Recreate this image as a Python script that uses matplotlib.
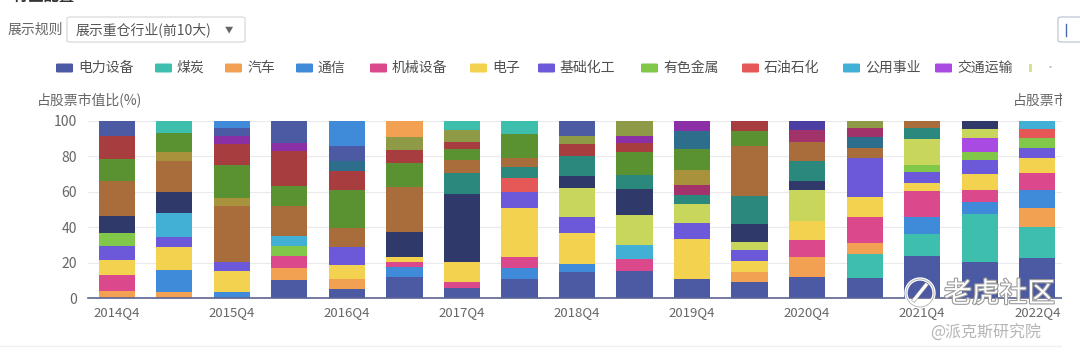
import matplotlib
matplotlib.use("Agg")
import matplotlib.pyplot as plt
import numpy as np
from matplotlib.patches import FancyBboxPatch, Ellipse, Rectangle
from matplotlib.lines import Line2D
import matplotlib.patheffects as pe

plt.rcParams['font.family'] = ['Noto Sans CJK SC', 'DejaVu Sans']

# ---------------- data ----------------
PERIODS = ['2014Q4', '2015Q2', '2015Q4', '2016Q2', '2016Q4', '2017Q2', '2017Q4', '2018Q2',
           '2018Q4', '2019Q2', '2019Q4', '2020Q2', '2020Q4', '2021Q2', '2021Q4', '2022Q2', '2022Q4']

POWER_EQUIPMENT = [0, 0, 0, 10.2, 5.1, 12.1, 5.5, 10.7, 14.5, 15.4, 10.5, 9.2, 12.1, 11.1, 23.9, 20.5, 22.8]
COAL            = [0, 0, 0, 0, 0, 0, 0, 0, 0, 0, 0, 0, 0, 13.6, 12.1, 26.8, 17.5]
AUTO            = [4.0, 3.6, 0, 6.6, 5.4, 0, 0, 0, 0, 0, 0, 5.7, 11.3, 6.6, 0, 0, 10.7]
TELECOM         = [0, 12.2, 3.6, 0, 0, 5.6, 0, 6.4, 4.5, 0, 0, 0, 0, 0, 10.0, 6.7, 10.0]
MACHINERY       = [9.0, 0, 0, 7.1, 0, 2.8, 3.4, 6.3, 0, 6.6, 0, 0, 9.4, 14.3, 14.5, 7.0, 9.4]
ELECTRONICS     = [8.5, 13.2, 11.8, 0, 8.1, 2.9, 11.6, 27.6, 17.9, 0, 22.6, 6.2, 10.7, 11.7, 4.3, 8.9, 8.9]
CHEMICALS       = [8.0, 5.3, 4.8, 0, 10.4, 0, 0, 9.1, 9.1, 0, 9.1, 6.0, 0, 21.6, 6.2, 8.1, 5.6]
NONFERROUS      = [7.5, 0, 0, 5.5, 0, 0, 0, 0, 0, 0, 0, 0, 0, 0, 4.1, 4.7, 5.7]
PETROCHEM       = [0, 0, 0, 0, 0, 0, 0, 7.5, 0, 0, 0, 0, 0, 0, 0, 0, 4.9]
UTILITIES       = [0, 13.9, 0, 5.8, 0, 0, 0, 0, 0, 7.9, 0, 0, 0, 0, 0, 0, 4.5]
TRANSPORT       = [0, 0, 0, 0, 0, 0, 0, 0, 0, 0, 0, 0, 0, 0, 0, 7.9, 0]
COMPUTER        = [0, 0, 0, 0, 0, 0, 0, 0, 16.0, 17.0, 10.7, 4.7, 17.5, 0, 14.7, 4.9, 0]
FOOD_BEV        = [9.3, 11.5, 0, 0, 0, 13.7, 38.1, 0, 6.9, 14.7, 0, 10.0, 5.3, 0, 0, 4.5, 0]
PHARMA          = [0, 0, 0, 0, 0, 0, 11.8, 6.2, 11.3, 7.9, 5.3, 15.8, 11.3, 0, 6.1, 0, 0]
NONBANK_FIN     = [19.7, 17.9, 32.0, 17.0, 10.4, 25.8, 7.6, 5.1, 0, 0, 0, 28.3, 10.3, 5.7, 4.1, 0, 0]
DEFENSE         = [0, 0, 0, 0, 0, 0, 0, 0, 0, 0, 5.6, 0, 7.0, 0, 0, 0, 0]
BUILDING_MAT    = [0, 4.7, 4.5, 0, 0, 0, 0, 0, 0, 0, 8.5, 0, 0, 0, 0, 0, 0]
HOME_APPL       = [12.3, 11.1, 18.4, 11.3, 21.6, 13.2, 6.0, 13.6, 0, 13.2, 11.9, 8.5, 0, 0, 0, 0, 0]
BANK            = [13.1, 0, 11.9, 19.5, 10.8, 7.5, 3.9, 0, 6.6, 4.7, 0, 5.6, 0, 0, 0, 0, 0]
REAL_ESTATE     = [0, 0, 0, 0, 5.6, 0, 0, 0, 0, 0, 10.2, 0, 0, 6.3, 0, 0, 0]
MEDIA           = [0, 0, 4.7, 4.4, 0, 0, 0, 0, 0, 4.3, 5.6, 0, 0, 0, 0, 0, 0]
AGRI            = [0, 0, 0, 0, 0, 0, 0, 0, 0, 0, 0, 0, 0, 4.9, 0, 0, 0]
STEEL           = [0, 0, 0, 0, 0, 7.5, 7.0, 0, 4.9, 8.3, 0, 0, 0, 4.2, 0, 0, 0]
CONSTRUCTION    = [0, 0, 0, 0, 0, 0, 0, 0, 0, 0, 0, 0, 5.1, 0, 0, 0, 0]
LIGHT_MFG       = [8.6, 0, 4.5, 12.6, 8.5, 0, 0, 0, 8.3, 0, 0, 0, 0, 0, 0, 0, 0]
RETAIL          = [0, 6.6, 0, 0, 0, 0, 5.1, 7.5, 0, 0, 0, 0, 0, 0, 0, 0, 0]
SOCIAL_SVC      = [0, 0, 0, 0, 0, 8.9, 0, 0, 0, 0, 0, 0, 0, 0, 0, 0, 0]
ENVIRONMENT     = [0, 0, 3.8, 0, 14.1, 0, 0, 0, 0, 0, 0, 0, 0, 0, 0, 0, 0]

# stacking order (bottom -> top), names and colours
SERIES = [
    ('电力设备', POWER_EQUIPMENT, '#4b5aa2'),
    ('煤炭', COAL, '#3ebfae'),
    ('汽车', AUTO, '#f2a152'),
    ('通信', TELECOM, '#3f8ad9'),
    ('机械设备', MACHINERY, '#dc488c'),
    ('电子', ELECTRONICS, '#f3d24f'),
    ('基础化工', CHEMICALS, '#6c59da'),
    ('有色金属', NONFERROUS, '#80c74a'),
    ('石油石化', PETROCHEM, '#e65757'),
    ('公用事业', UTILITIES, '#42b0d4'),
    ('交通运输', TRANSPORT, '#a94ae2'),
    ('计算机', COMPUTER, '#c8d75c'),
    ('食品饮料', FOOD_BEV, '#2f3a6b'),
    ('医药生物', PHARMA, '#2a897c'),
    ('非银金融', NONBANK_FIN, '#a86d3a'),
    ('国防军工', DEFENSE, '#a2336a'),
    ('建筑材料', BUILDING_MAT, '#a8923c'),
    ('家用电器', HOME_APPL, '#5b9231'),
    ('银行', BANK, '#a83d3f'),
    ('房地产', REAL_ESTATE, '#2c6e8c'),
    ('传媒', MEDIA, '#8b2fa6'),
    ('农林牧渔', AGRI, '#a2336a'),
    ('钢铁', STEEL, '#8e9a45'),
    ('建筑装饰', CONSTRUCTION, '#4b3fa3'),
    ('轻工制造', LIGHT_MFG, '#4b5aa2'),
    ('商贸零售', RETAIL, '#3ebfae'),
    ('社会服务', SOCIAL_SVC, '#f2a152'),
    ('环保', ENVIRONMENT, '#3f8ad9'),
]
LEGEND_COUNT = 11
Y_TICKS = [0, 20, 40, 60, 80, 100]

# ---------------- figure ----------------
W, H = 1080, 358
fig = plt.figure(figsize=(W / 100, H / 100), dpi=100)
fig.patch.set_facecolor('white')


def fx(px):
    return px / W


def fy(py):
    return 1 - py / H


GRAY = '#666666'

ax = fig.add_axes([fx(88), fy(298), fx(1066) - fx(88), fy(121) - fy(298)])
x = np.arange(len(PERIODS))
bottom = np.zeros(len(PERIODS))
for name, vals, col in SERIES:
    v = np.array(vals, dtype=float)
    ax.bar(x, v, bottom=bottom, width=0.63, color=col, linewidth=0, zorder=3)
    bottom += v

ax.set_xlim(-0.5, len(PERIODS) - 0.5)
ax.set_ylim(0, 100)
ax.set_yticks(Y_TICKS)
ax.set_yticklabels([str(t) for t in Y_TICKS], fontsize=10, color=GRAY)
ax.set_xticks(x)
ax.set_xticklabels([p if i % 2 == 0 else '' for i, p in enumerate(PERIODS)], fontsize=9.5, color=GRAY)
ax.tick_params(axis='y', length=0, pad=8)
ax.tick_params(axis='x', length=0, pad=6)
ax.grid(axis='y', color='#e9e9ee', linewidth=0.8, zorder=0)
for s in ['top', 'right', 'left']:
    ax.spines[s].set_visible(False)
ax.spines['bottom'].set_color('#5b6394')
ax.spines['bottom'].set_linewidth(1.2)
ax.spines['bottom'].set_zorder(4)

# ---------------- header controls ----------------
fig.text(fx(4), fy(-4), '- 行业配置', fontsize=11, fontweight='bold', color='#333333', va='center')
fig.text(fx(8), fy(30), '展示规则', fontsize=10, color=GRAY, va='center')
box = FancyBboxPatch((fx(67), fy(42)), fx(245) - fx(67), fy(17) - fy(42),
                     boxstyle='round,pad=0,rounding_size=0.004', transform=fig.transFigure,
                     facecolor='white', edgecolor='#d9d9d9', linewidth=0.9)
fig.add_artist(box)
fig.text(fx(76), fy(30), '展示重仓行业(前10大)', fontsize=10, color='#555555', va='center')
fig.text(fx(229), fy(30), '▼', fontsize=6, color='#666666', va='center', ha='center')
box2 = FancyBboxPatch((fx(1058), fy(42)), fx(1095) - fx(1058), fy(17) - fy(42),
                      boxstyle='round,pad=0,rounding_size=0.004', transform=fig.transFigure,
                      facecolor='white', edgecolor='#bfc6d6', linewidth=0.9)
fig.add_artist(box2)
fig.add_artist(Line2D([fx(1066), fx(1066)], [fy(36), fy(24)], transform=fig.transFigure,
                      color='#4a6ab0', linewidth=1.0))

# ---------------- legend ----------------
legend_x = [56, 155, 225, 296, 370, 470, 538, 641, 742, 843, 935]
ly = 68
for (name, vals, col), lx in zip(SERIES[:LEGEND_COUNT], legend_x):
    m = FancyBboxPatch((fx(lx), fy(ly + 4.5)), fx(17), 9 / H,
                       boxstyle='round,pad=0,rounding_size=0.002', transform=fig.transFigure,
                       facecolor=col, edgecolor='none')
    fig.add_artist(m)
    fig.text(fx(lx + 22), fy(ly), name, fontsize=10, color='#505050', va='center')
# faded next item peeking at right edge
fig.add_artist(Rectangle((fx(1029), fy(ly + 4)), fx(2.5), 8 / H, transform=fig.transFigure,
                         facecolor=SERIES[LEGEND_COUNT][2], edgecolor='none', alpha=0.7))
fig.text(fx(1045), fy(ly), '·', fontsize=8, color='#bbbbbb', va='center')

# ---------------- axis names ----------------
fig.text(fx(37), fy(100), '占股票市值比(%)', fontsize=10, color=GRAY, va='center')
fig.text(fx(1013), fy(100), '占股票市值比(%)', fontsize=10, color=GRAY, va='center')

# ---------------- right edge of the chart panel (content is clipped there) ----------------
fig.add_artist(Rectangle((fx(1062), 0), fx(1080) - fx(1062), fy(52), transform=fig.transFigure,
                         facecolor='white', edgecolor='none', zorder=8))

# ---------------- watermarks ----------------
stroke = [pe.withStroke(linewidth=1.6, foreground='#9a9a9a')]
fig.add_artist(Ellipse((fx(920), fy(293)), 28 / W, 28 / H, transform=fig.transFigure,
                       facecolor='none', edgecolor='white', linewidth=2.4, zorder=10))
fig.add_artist(Ellipse((fx(920), fy(293)), 28 / W, 28 / H, transform=fig.transFigure,
                       facecolor='none', edgecolor='#9a9a9a', linewidth=0.6, alpha=0.8, zorder=11))
fig.add_artist(Line2D([fx(914), fx(926)], [fy(300), fy(285)], transform=fig.transFigure,
                      color='white', linewidth=2.2, zorder=11,
                      path_effects=[pe.withStroke(linewidth=3.0, foreground='#9a9a9a')]))
t = fig.text(fx(944), fy(294), '老虎社区', fontsize=20, color='white', va='center', zorder=12)
t.set_path_effects(stroke)
fig.text(fx(930), fy(333), '@派克斯研究院', fontsize=11.5, color='#b5b5b5', va='center', zorder=12)
fig.add_artist(Line2D([0, fx(1062)], [fy(346), fy(346)], transform=fig.transFigure,
                      color='#f0f0f0', linewidth=1.0))

fig.savefig('out.png', dpi=100, facecolor='white')
